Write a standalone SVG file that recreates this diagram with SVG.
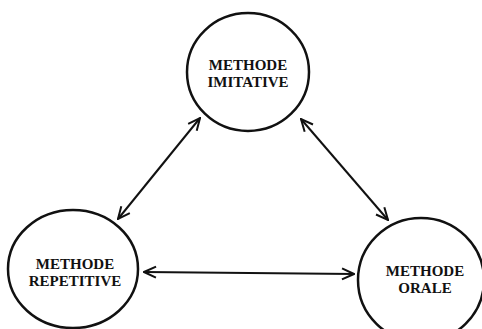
<svg xmlns="http://www.w3.org/2000/svg" width="482" height="329" viewBox="0 0 482 329">
<defs>
<style>
.node ellipse{fill:none;stroke:#111;stroke-width:2.5}
.node text{font-family:"Liberation Serif","Times New Roman",serif;font-weight:bold;font-size:15px;fill:#111;text-anchor:middle}
.edge{stroke:#111;stroke-width:2;fill:none;marker-start:url(#ah);marker-end:url(#ah)}
</style>
<marker id="ah" viewBox="0 0 14 14" refX="13" refY="7" markerWidth="14" markerHeight="14" markerUnits="userSpaceOnUse" orient="auto-start-reverse">
<path d="M1,1.5 L13,7 L1,12.5" fill="none" stroke="#111" stroke-width="2"/>
</marker>
</defs>
<rect width="482" height="329" fill="#fff"/>
<g id="connectors">
<line class="edge" x1="118" y1="219" x2="200" y2="118"/>
<line class="edge" x1="301" y1="119" x2="388" y2="220"/>
<line class="edge" x1="144" y1="272" x2="354" y2="274"/>
</g>
<g id="imitative" class="node">
<ellipse cx="248" cy="72" rx="61" ry="59"/>
<text x="248" y="70">METHODE</text>
<text x="248" y="87">IMITATIVE</text>
</g>
<g id="repetitive" class="node">
<ellipse cx="73" cy="269" rx="65" ry="59"/>
<text x="75" y="269">METHODE</text>
<text x="75" y="286">REPETITIVE</text>
</g>
<g id="orale" class="node">
<ellipse cx="421" cy="280" rx="63" ry="62"/>
<text x="425" y="276">METHODE</text>
<text x="425" y="293">ORALE</text>
</g>
</svg>
